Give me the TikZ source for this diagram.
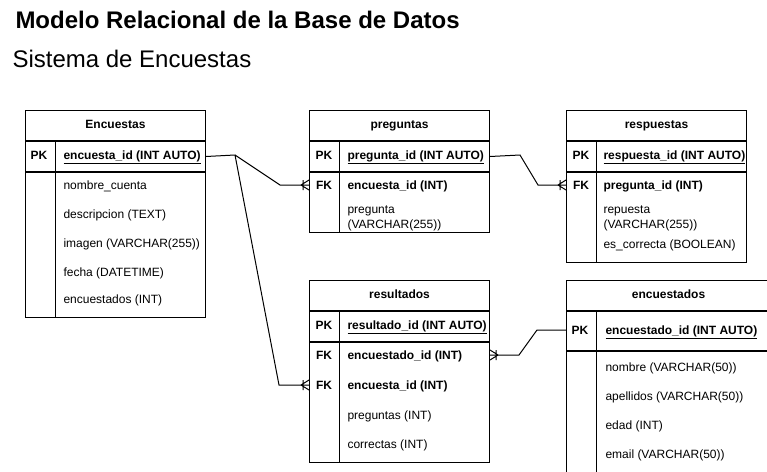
\documentclass[tikz,border=0pt]{standalone}
\usepackage{fontspec}
\setmainfont{Liberation Sans}
\usetikzlibrary{positioning}

\tikzset{
  tblhead/.style={draw, anchor=north west, minimum width=135pt, minimum height=22.5pt,
    inner sep=0pt, text height=6.6pt, text depth=1.6pt, font=\bfseries\fontsize{9}{11}\selectfont},
  tblrow/.style={draw, anchor=north west, minimum width=135pt, inner sep=0pt},
  keylbl/.style={inner sep=0pt, font=\bfseries\fontsize{9}{11}\selectfont},
  fld/.style={anchor=base west, inner sep=0pt, align=left, font=\fontsize{9}{11.25}\selectfont},
  keyfld/.style={fld, font=\bfseries\fontsize{9}{11}\selectfont},
  crow/.pic={\draw (-8,0) -- (0,-5) (-8,0) -- (0,5) (-6,-5) -- (-6,5);}
}

\begin{document}
\begin{tikzpicture}[x=0.75pt, y=-0.75pt, line width=0.75pt]
    \fill[white] (0,0) rectangle (767,471);
    \useasboundingbox (0,0) rectangle (767,471);

    % Title
    \node[anchor=base west, inner sep=0pt, font=\bfseries\fontsize{18}{22}\selectfont] (title) at (15,28) {Modelo Relacional de la Base de Datos};
    \node[anchor=base west, inner sep=0pt, font=\fontsize{18}{22}\selectfont] (subtitle) at (12,67) {Sistema de Encuestas};

    % Encuestas
    \node[tblhead] (enc) at (25,110) {Encuestas};
    \node[tblrow, minimum height=22.5pt] (enc-pk) at (enc.south west) {};
    \node[tblrow, minimum height=108.75pt] (enc-body) at (enc-pk.south west) {};
    \draw ([xshift=22.5pt]enc-pk.north west) -- ([xshift=22.5pt]enc-body.south west);
    \node[keylbl] (enc-pkl) at (39,155) {PK};
    \node[keyfld] (enc-id) at (63,159) {\underline{encuesta\_id (INT AUTO)}};
    \foreach \y/\t [count=\i] in {189/nombre\_cuenta, 218/descripcion (TEXT), 247/imagen (VARCHAR(255)), 276/fecha (DATETIME), 303/encuestados (INT)}
        \node[fld] (enc-f\i) at (63,\y) {\t};

    % preguntas
    \node[tblhead] (pg) at (309,110) {preguntas};
    \node[tblrow, minimum height=22.5pt] (pg-pk) at (pg.south west) {};
    \node[tblrow, minimum height=45pt] (pg-body) at (pg-pk.south west) {};
    \draw ([xshift=22.5pt]pg-pk.north west) -- ([xshift=22.5pt]pg-body.south west);
    \node[keylbl] (pg-pkl) at (324,155) {PK};
    \node[keyfld] (pg-id) at (347,159) {\underline{pregunta\_id (INT AUTO)}};
    \node[keylbl] (pg-fkl) at (324,185) {FK};
    \node[keyfld] (pg-f1) at (347,189) {encuesta\_id (INT)};
    \node[fld] (pg-f2) at (347,228) {pregunta\\(VARCHAR(255))};

    % respuestas
    \node[tblhead] (rp) at (566,110) {respuestas};
    \node[tblrow, minimum height=22.5pt] (rp-pk) at (rp.south west) {};
    \node[tblrow, minimum height=67.5pt] (rp-body) at (rp-pk.south west) {};
    \draw ([xshift=22.5pt]rp-pk.north west) -- ([xshift=22.5pt]rp-body.south west);
    \node[keylbl] (rp-pkl) at (581,155) {PK};
    \node[keyfld] (rp-id) at (603,159) {\underline{respuesta\_id (INT AUTO)}};
    \node[keylbl] (rp-fkl) at (581,185) {FK};
    \node[keyfld] (rp-f1) at (603,189) {pregunta\_id (INT)};
    \node[fld] (rp-f2) at (603,228) {repuesta\\(VARCHAR(255))};
    \node[fld] (rp-f3) at (603,248) {es\_correcta (BOOLEAN)};

    % resultados
    \node[tblhead] (rs) at (309,280) {resultados};
    \node[tblrow, minimum height=22.5pt] (rs-pk) at (rs.south west) {};
    \node[tblrow, minimum height=90pt] (rs-body) at (rs-pk.south west) {};
    \draw ([xshift=22.5pt]rs-pk.north west) -- ([xshift=22.5pt]rs-body.south west);
    \node[keylbl] (rs-pkl) at (324,325) {PK};
    \node[keyfld] (rs-id) at (347,329) {\underline{resultado\_id (INT AUTO)}};
    \node[keylbl] (rs-fkl1) at (324,355) {FK};
    \node[keyfld] (rs-f1) at (347,359) {encuestado\_id (INT)};
    \node[keylbl] (rs-fkl2) at (324,385) {FK};
    \node[keyfld] (rs-f2) at (347,389) {encuesta\_id (INT)};
    \node[fld] (rs-f3) at (347,419) {preguntas (INT)};
    \node[fld] (rs-f4) at (347,448) {correctas (INT)};

    % encuestados
    \node[tblhead, minimum width=153pt] (ed) at (566,280) {encuestados};
    \node[tblrow, minimum width=153pt, minimum height=29.25pt] (ed-pk) at (ed.south west) {};
    \node[tblrow, minimum width=153pt, minimum height=100pt] (ed-body) at (ed-pk.south west) {};
    \draw ([xshift=22.5pt]ed-pk.north west) -- ([xshift=22.5pt]ed-body.south west);
    \node[keylbl] (ed-pkl) at (580,330) {PK};
    \node[keyfld] (ed-id) at (605,334) {\underline{encuestado\_id (INT AUTO)}};
    \foreach \y/\t [count=\i] in {371/nombre (VARCHAR(50)), 400/apellidos (VARCHAR(50)), 429/edad (INT), 458/email (VARCHAR(50))}
        \node[fld] (ed-f\i) at (605,\y) {\t};

    % Relations
    \coordinate (enc-out) at (235,155);
    \coordinate (pg-in) at (280,185);
    \coordinate (rs-in) at (279,385);
    \coordinate (pg-out) at (520,155);
    \coordinate (rp-in) at (538,185);
    \coordinate (ed-out) at (537,330);
    \coordinate (rs-ed) at (519,355);
    \draw (enc-pk.east) -- (enc-out) -- (pg-in) -- (pg.west |- pg-fkl) pic {crow};
    \draw (enc-out) -- (rs-in) -- (rs.west |- rs-fkl2) pic {crow};
    \draw (pg-pk.east) -- (pg-out) -- (rp-in) -- (rp.west |- rp-fkl) pic {crow};
    \draw (ed.west |- ed-pkl) -- (ed-out) -- (rs-ed) -- (rs.east |- rs-fkl1) pic[rotate=180] {crow};
\end{tikzpicture}
\end{document}
